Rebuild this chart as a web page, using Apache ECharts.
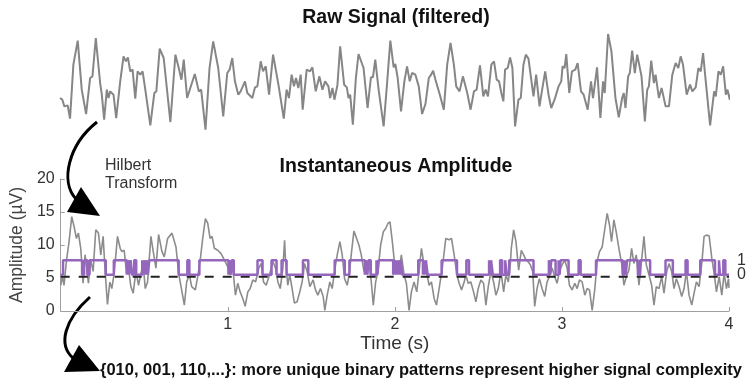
<!DOCTYPE html>
<html><head><meta charset="utf-8">
<script src="https://cdn.jsdelivr.net/npm/echarts@6/dist/echarts.min.js"></script>
<style>html,body{margin:0;padding:0;background:#fff}#c{width:755px;height:385px}</style>
</head><body><div id="c"></div>
<script>
// ---------- DATA (times in ms) ----------
const rawTime = [0,14,26,46,60,80,106,130,140,156,180,194,214,240,250,264,280,290,300,320,336,360,380,394,406,420,434,450,464,480,494,510,540,564,576,596,620,660,690,710,726,740,760,806,830,844,870,894,916,946,976,1000,1014,1030,1046,1066,1080,1106,1120,1150,1166,1180,1200,1214,1230,1250,1274,1306,
1338,1355,1369,1385,1399,1411,1425,1439,1451,1475,1495,1509,1529,1551,1569,1585,1605,1615,1629,1641,1659,1675,1699,1715,1725,1735,1751,1769,1785,1815,1839,1859,1871,1885,1905,1935,1955,1975,1995,2005,2019,2039,2059,2075,2091,2105,2125,2145,2165,2185,2205,2219,2231,2245,2255,2271,2295,2315,2335,2355,2369,2389,2409,2435,2455,2475,2491,2511,2531,2545,2559,2579,2595,2611,2625,2639,2651,
2661,2677,2691,2705,2721,2741,2755,2771,2785,2801,2811,2831,2847,2867,2881,2901,2921,2937,2957,2981,2997,3005,3017,3027,3045,3061,3081,3095,3115,3131,3141,3155,3175,3187,3211,3231,3247,3257,3277,3297,3305,3321,3341,3361,3371,3381,3397,3407,3421,3437,3451,3477,3497,3511,3521,3535,3551,3561,3581,3597,3621,3641,3661,3681,3697,3711,3725,3747,3767,3781,3801,3817,3831,3845,3861,3887,3911,3921,3937,3951,3965,3981,3991,4005,4017];
const rawValue = [-5.0,-5.5,-7.5,-7.2,-11.2,5.0,12.2,-2.5,-3.0,-9.8,1.0,1.5,13.0,-0.5,-4.0,-11.5,-2.5,-5.0,-3.0,-4.0,-11.0,0.0,7.5,6.0,7.2,3.0,3.5,-5.2,3.0,2.0,3.0,-2.5,-13.2,-3.5,-3.0,9.8,7.0,-12.2,8.0,4.0,0.5,6.5,-5.0,2.2,-3.0,-2.5,-14.5,4.0,12.0,4.0,-10.5,2.5,3.5,7.0,0.0,-4.0,-3.0,0.0,-3.5,-5.0,-1.8,-1.5,6.0,3.0,4.5,-4.0,8.0,-1.0,
-11.2,-2.5,-5.0,2.0,-1.5,1.0,-2.0,2.0,-8.5,3.5,3.0,4.2,-3.0,1.5,-2.5,0.0,-1.5,-5.0,-2.0,-5.5,-1.0,10.5,-1.0,-1.8,-5.0,-4.0,-13.0,1.0,8.2,4.0,-8.0,1.2,1.2,6.5,-2.5,-13.5,-1.0,12.2,4.2,5.2,1.0,-9.0,0.0,4.5,0.0,2.5,2.0,-1.5,-9.8,-6.8,1.0,2.0,3.2,0.5,1.0,-4.0,-8.5,5.0,11.5,5.0,-1.5,-3.0,1.5,-3.5,-8.5,-3.0,-2.5,4.8,-4.5,-2.5,-4.5,5.0,6.0,0.5,0.0,-3.5,-6.0,
3.5,4.0,7.2,4.0,-13.5,-5.5,-5.0,5.0,8.0,6.8,7.0,-4.5,2.0,-7.5,-3.0,3.0,-4.0,-8.0,-5.5,-1.5,0.0,4.5,4.0,8.2,-3.5,3.0,3.5,5.5,-3.0,-4.0,-3.5,-8.5,0.0,-5.0,4.2,-11.0,0.0,-3.5,14.2,9.0,8.5,-5.0,-10.8,-5.0,-3.5,-8.0,1.5,2.5,9.2,2.5,8.0,1.5,-12.0,-2.5,-1.5,6.2,-0.5,2.0,-5.0,-2.0,-7.5,-7.5,2.0,5.5,4.0,7.5,5.0,-4.0,-1.0,-3.0,-1.8,4.0,3.0,8.5,0.0,-13.2,-3.0,-4.5,3.0,2.0,4.5,-4.0,-2.5,-5.5,-2.5];

const ampTime = [0,10,20,34,50,66,80,94,106,120,134,146,156,166,180,194,210,226,240,254,266,280,294,306,320,340,356,366,380,394,406,420,434,450,466,480,494,506,520,540,554,570,586,606,620,640,666,690,706,726,740,754,770,784,806,820,834,850,866,880,894,906,920,940,960,980,1000,1014,1030,1046,1060,1074,1090,1104,1120,1134,1150,1166,1186,1200,1214,1230,1250,1270,1286,1300,1314,1330,1340,
1345,1359,1371,1385,1399,1415,1431,1445,1459,1475,1491,1511,1525,1539,1555,1571,1581,1595,1611,1625,1639,1655,1671,1685,1699,1715,1729,1741,1755,1771,1785,1799,1815,1831,1845,1859,1871,1885,1899,1915,1931,1945,1959,1971,1985,1995,2011,2025,2039,2055,2069,2085,2099,2115,2131,2145,2159,2175,2189,2205,2219,2235,2249,2265,2285,2305,2325,2339,2355,2371,2385,2399,2415,2425,2439,2455,2471,2485,2499,2515,2531,2545,2559,2575,2591,2605,2619,2635,2651,2665,2679,2691,
2697,2711,2725,2741,2757,2771,2785,2797,2811,2825,2837,2851,2865,2881,2897,2911,2925,2941,2957,2971,2985,3001,3017,3031,3045,3061,3077,3091,3105,3121,3137,3151,3165,3181,3197,3211,3225,3241,3257,3271,3285,3297,3311,3325,3341,3357,3371,3385,3401,3417,3431,3445,3461,3477,3491,3505,3521,3537,3551,3565,3581,3597,3611,3627,3641,3657,3671,3685,3701,3717,3731,3745,3761,3777,3791,3805,3821,3837,3851,3865,3881,3897,3911,3925,3941,3957,3971,3985,3997,4000];
const ampValue = [3.9,5.2,3.9,7.5,10.5,14.3,12.8,11.0,11.8,9.5,4.2,8.5,8.2,4.2,7.7,6.0,12.3,11.8,8.5,11.3,6.0,1.0,4.4,3.4,5.7,11.3,9.5,9.0,9.2,5.7,6.5,3.7,2.7,6.0,3.9,5.7,7.0,3.4,4.4,11.3,9.0,6.5,11.6,9.0,8.2,11.0,11.8,9.7,5.7,2.9,0.9,4.4,5.5,3.7,3.2,5.2,7.5,11.0,14.0,13.3,11.0,11.3,9.5,9.2,8.7,7.7,6.7,5.5,6.5,2.4,4.2,2.9,1.9,0.7,2.9,3.4,4.7,4.4,6.5,7.2,4.4,3.9,5.5,7.5,6.5,4.4,3.4,6.5,10.7,
8.0,3.9,5.5,3.4,1.2,1.4,2.9,4.4,7.2,6.0,3.7,4.7,3.2,2.4,3.4,2.2,0.1,2.4,4.4,3.4,6.0,8.5,10.5,8.5,4.9,3.9,6.0,9.0,12.1,11.0,10.0,8.5,6.0,7.0,7.5,4.4,0.9,4.4,6.0,10.0,12.0,12.5,13.3,13.5,10.5,8.0,6.5,6.0,8.5,5.5,4.2,0.1,2.9,4.4,2.9,6.0,9.5,7.0,6.0,3.9,4.4,1.9,0.9,3.4,6.7,11.0,10.8,11.0,8.5,5.5,4.2,3.2,4.4,5.5,4.2,4.4,2.9,1.4,3.4,4.7,4.2,0.9,3.7,6.0,4.4,2.4,3.4,6.0,2.9,5.5,4.4,7.0,
9.5,12.3,10.5,6.2,9.2,8.5,7.7,7.5,7.0,6.0,0.7,3.4,4.9,3.4,2.2,4.4,5.2,6.5,5.2,4.2,6.0,7.0,7.7,6.5,3.9,3.2,4.2,3.4,4.7,4.4,2.4,3.4,3.2,0.1,3.4,7.5,9.0,9.7,12.5,14.8,13.0,10.5,13.8,12.0,9.5,7.2,3.9,5.2,6.2,9.5,7.2,8.5,3.9,7.7,11.3,7.0,5.5,3.9,0.9,3.7,3.4,5.2,2.7,6.0,7.2,6.0,3.4,4.9,3.7,2.2,3.4,6.0,2.4,0.9,2.7,4.4,3.7,7.2,11.3,11.5,11.4,8.0,5.7,2.9,5.2,2.4,5.7,3.4,4.9,3.5];

const THRESHOLD = 5.2; // µV, dashed line
// binary pattern: times (ms) where state changes, and the new state
const binTime = [0,14,128,140,160,172,270,318,396,402,410,418,428,440,452,488,494,500,508,516,522,530,706,758,770,830,1004,1010,1018,1024,1036,1178,1208,1262,1292,1322,1352,1450,1482,1640,1700,1728,1820,1826,1836,1842,1856,1890,1896,1902,1990,1996,2004,2010,2016,2022,2030,2036,2044,2140,2168,2174,2180,2186,2196,2280,2372,2428,2444,2564,2570,2576,2586,2630,2642,2660,2670,2684,2830,2922,2930,2936,2962,2980,2986,2992,3040,3100,3112,3204,3364,3376,3382,3390,3455,3468,3528,3620,3664,3740,3752,3828,3916,3940,3946,3966,3978];
const binState = [0,1,0,1,0,1,0,1,0,1,0,1,0,1,0,1,0,1,0,1,0,1,0,1,0,1,0,1,0,1,0,1,0,1,0,1,0,1,0,1,0,1,0,1,0,1,0,1,0,1,0,1,0,1,0,1,0,1,0,1,0,1,0,1,0,1,0,1,0,1,0,1,0,1,0,1,0,1,0,1,0,1,0,1,0,1,0,1,0,1,0,1,0,1,0,1,0,1,0,1,0,1,0,1,0,1,0];
const xTicks = [0,1,2,3,4];
const yTicks = [0,5,10,15,20];

// ---------- BUILD ----------
const rawData = rawTime.map((t,i)=>[t/1000, rawValue[i]]);
const ampData = ampTime.map((t,i)=>[t/1000, ampValue[i]]);
const binData = [];
for (let i=0;i<binTime.length;i++){
  const t = binTime[i]/1000;
  if (i>0) binData.push([t, binState[i-1]]);
  binData.push([t, binState[i]]);
}
binData.push([4, binState[binState.length-1]]);

const FONT = '"Liberation Sans", Arial, sans-serif';
const chart = echarts.init(document.getElementById('c'), null, {renderer:'canvas'});
chart.setOption({
  animation:false,
  backgroundColor:'#fff',
  textStyle:{fontFamily:FONT},
  grid:[
    {left:60, top:28, width:669, height:106.7},
    {left:60, top:179, width:669, height:132}
  ],
  xAxis:[
    {gridIndex:0, type:'value', min:0, max:4, show:false},
    {gridIndex:1, type:'value', min:xTicks[0], max:xTicks[xTicks.length-1], interval:1,
      axisLine:{lineStyle:{color:'#a0a0a0', width:1}},
      axisTick:{show:true, inside:true, length:4, lineStyle:{color:'#a0a0a0'}},
      axisLabel:{formatter:v=> (v===0?'':String(v)), color:'#333', fontSize:16, margin:6, fontFamily:FONT},
      splitLine:{show:false},
      name:'Time (s)', nameLocation:'middle', nameGap:23,
      nameTextStyle:{fontSize:19, color:'#333', fontFamily:FONT}}
  ],
  yAxis:[
    {gridIndex:0, type:'value', min:-16, max:16, show:false},
    {gridIndex:1, type:'value', min:yTicks[0], max:yTicks[yTicks.length-1], interval:5,
      axisLine:{show:true, lineStyle:{color:'#a0a0a0', width:1}},
      axisTick:{show:true, inside:true, length:4, lineStyle:{color:'#a0a0a0'}},
      axisLabel:{color:'#333', fontSize:16, margin:6, fontFamily:FONT},
      splitLine:{show:false},
      name:'Amplitude (µV)', nameLocation:'middle', nameGap:28, nameRotate:90,
      nameTextStyle:{fontSize:17.5, color:'#444', fontFamily:FONT}},
    {gridIndex:1, type:'value', position:'right', min:-2.5, max:6.6, interval:0.5,
      axisLine:{show:false}, axisTick:{show:false}, splitLine:{show:false},
      axisLabel:{formatter:v=> (Math.abs(v)<1e-6?'0':(Math.abs(v-1)<1e-6?'1':'')), color:'#333', fontSize:16, margin:8, fontFamily:FONT}}
  ],
  series:[
    {type:'line', xAxisIndex:0, yAxisIndex:0, data:rawData, showSymbol:false, clip:false,
      lineStyle:{color:'#868686', width:2}, silent:true},
    {type:'line', xAxisIndex:1, yAxisIndex:1, data:ampData, showSymbol:false,
      lineStyle:{color:'#8c8c8c', width:1.6}, silent:true},
    {type:'line', xAxisIndex:1, yAxisIndex:1, data:[[0,THRESHOLD],[4,THRESHOLD]], showSymbol:false,
      lineStyle:{color:'#222', width:2, type:[9,9]}, silent:true},
    {type:'line', xAxisIndex:1, yAxisIndex:2, data:binData, showSymbol:false,
      lineStyle:{color:'#9467bd', width:2.5}, silent:true}
  ],
  graphic:[
    {type:'text', x:396, y:18, style:{text:'Raw Signal (filtered)', font:'bold 19.5px '+FONT, fill:'#111', align:'center', verticalAlign:'middle'}},
    {type:'text', x:396, y:167, style:{text:'Instantaneous Amplitude', font:'bold 19.5px '+FONT, fill:'#111', align:'center', verticalAlign:'middle'}},
    {type:'text', x:105, y:166, style:{text:'Hilbert', font:'16px '+FONT, fill:'#333', align:'left', verticalAlign:'middle'}},
    {type:'text', x:105, y:184, style:{text:'Transform', font:'16px '+FONT, fill:'#333', align:'left', verticalAlign:'middle'}},
    {type:'text', x:100, y:370, style:{text:'{010, 001, 110,...}: more unique binary patterns represent higher signal complexity', font:'bold 16.5px '+FONT, fill:'#111', align:'left', verticalAlign:'middle'}},
    {type:'bezierCurve', shape:{x1:97,y1:122,cpx1:68,cpy1:145,cpx2:60,cpy2:182,x2:76,y2:199}, style:{stroke:'#000', lineWidth:3, fill:null}},
    {type:'polygon', shape:{points:[[67,212],[100,216],[81,187]]}, style:{fill:'#000'}},
    {type:'bezierCurve', shape:{x1:90,y1:297,cpx1:64,cpy1:320,cpx2:58,cpy2:345,x2:73,y2:358}, style:{stroke:'#000', lineWidth:3, fill:null}},
    {type:'polygon', shape:{points:[[64,372],[100,371],[79,345]]}, style:{fill:'#000'}}
  ]
});
</script></body></html>
